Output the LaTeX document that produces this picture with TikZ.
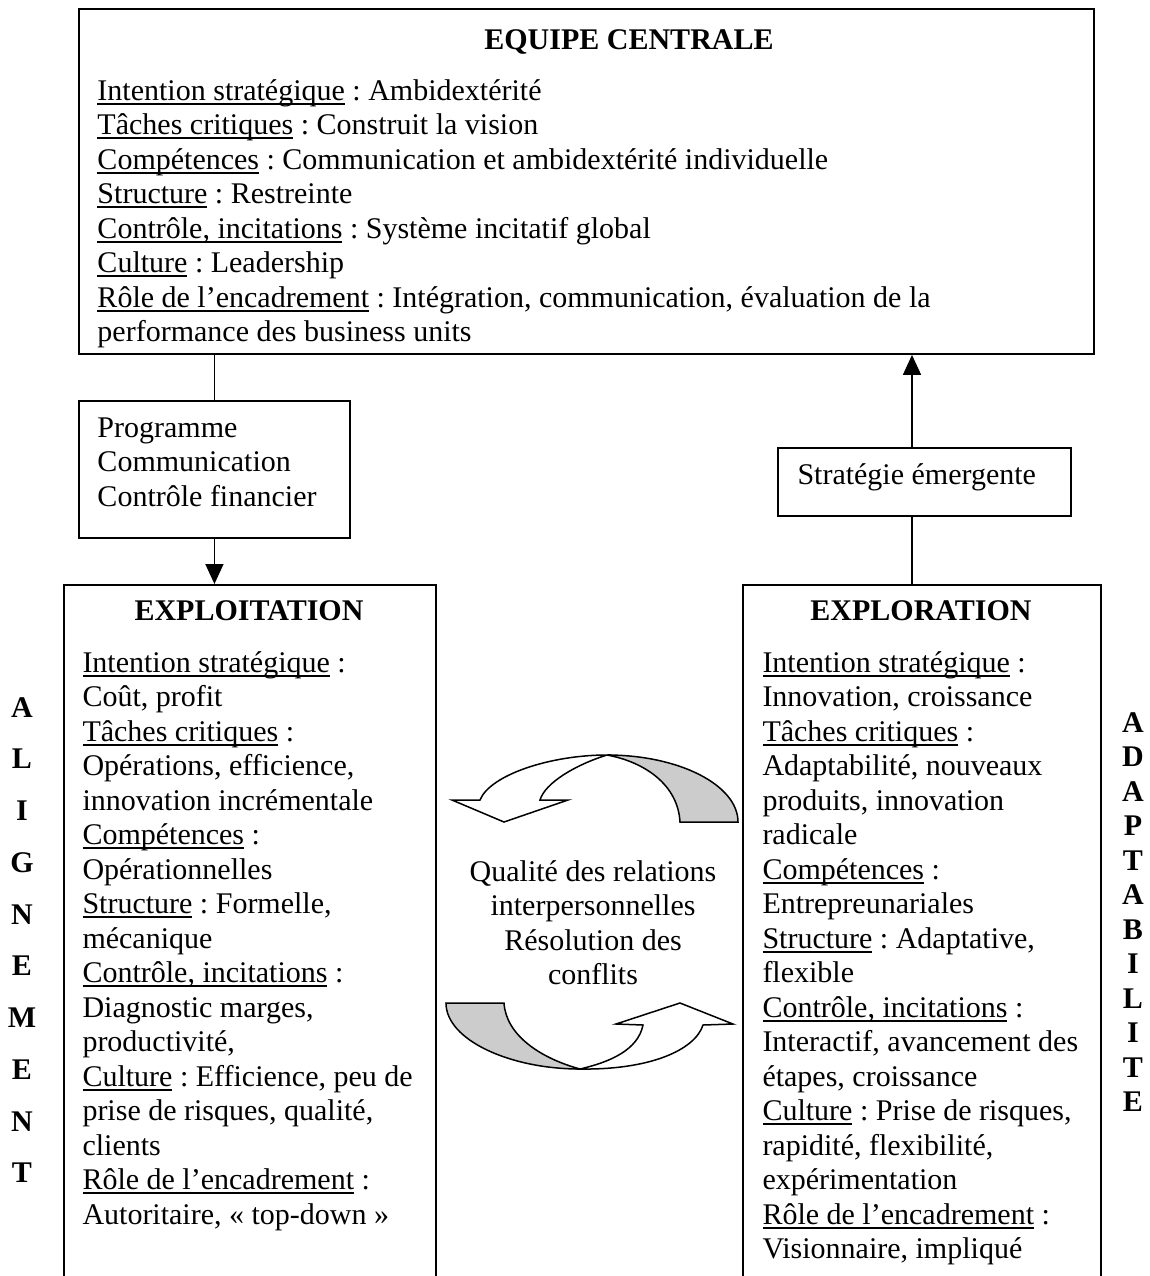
\documentclass[tikz,border=0pt,12pt]{standalone}
\usepackage{fontspec}
\setmainfont{Liberation Serif}
\usetikzlibrary{arrows.meta}
\frenchspacing
\newcommand\myul[1]{\setbox0=\hbox{#1}\rlap{\rule[-1.8pt]{\wd0}{0.65pt}}\box0\relax}
\definecolor{shade}{HTML}{CCCCCC}
\begin{document}
\begin{tikzpicture}[x=0.4pt,y=-0.4pt,
  box/.style={draw, line width=0.75pt, inner sep=0pt, anchor=north west},
  txt/.style={anchor=base west, inner sep=0pt},
  ctxt/.style={anchor=base, inner sep=0pt},
  conn/.style={line width=0.6pt},
  tip/.style={-{Triangle[length=8pt,width=7.2pt]}}]
\useasboundingbox (0,0) rectangle (1150,1276);
% boxes
\node[box, minimum width=406pt, minimum height=138pt] (top) at (78,8) {};
\node[box, minimum width=108.4pt, minimum height=54.8pt] (prog) at (78,400) {};
\node[box, minimum width=117.2pt, minimum height=27.2pt] (strat) at (777,447) {};
\node[box, minimum width=148.8pt, minimum height=290pt] (exploit) at (63,584) {};
\node[box, minimum width=143.2pt, minimum height=290pt] (explor) at (742,584) {};
\coordinate (cx) at (912,0);
% connectors
\draw[conn] (prog.north) -- (prog.north |- top.south);
\draw[conn, tip] (prog.south) -- (prog.south |- exploit.north);
\draw[conn] (explor.north -| cx) -- (strat.south -| cx);
\draw[conn, tip] (strat.north -| cx) -- (top.south -| cx);
% top box text
\node[ctxt, font=\bfseries] (toph) at (629,49) {EQUIPE CENTRALE};
\foreach \t [count=\i from 0] in {
  {\myul{Intention stratégique} : Ambidextérité},
  {\myul{Tâches critiques} : Construit la vision},
  {\myul{Compétences} : Communication et ambidextérité individuelle},
  {\myul{Structure} : Restreinte},
  {\myul{Contrôle, incitations} : Système incitatif global},
  {\myul{Culture} : Leadership},
  {\myul{Rôle de l’encadrement} : Intégration, communication, évaluation de la},
  {performance des business units}}
  \node[txt] (tl\i) at (97,{100+34.5*\i}) {\t};
% program box
\foreach \t [count=\i from 0] in {Programme, Communication, Contrôle financier}
  \node[txt] (pl\i) at (97,{437+34.5*\i}) {\t};
% strategie
\node[txt] (sl) at (797,484) {Stratégie émergente};
% exploitation
\node[ctxt, font=\bfseries] (exh) at (249,620) {EXPLOITATION};
\foreach \t [count=\i from 0] in {
  {\myul{Intention stratégique} :},
  {Coût, profit},
  {\myul{Tâches critiques} :},
  {Opérations, efficience,},
  {innovation incrémentale},
  {\myul{Compétences} :},
  {Opérationnelles},
  {\myul{Structure} : Formelle,},
  {mécanique},
  {\myul{Contrôle, incitations} :},
  {Diagnostic marges,},
  {productivité,},
  {\myul{Culture} : Efficience, peu de},
  {prise de risques, qualité,},
  {clients},
  {\myul{Rôle de l’encadrement} :},
  {Autoritaire, « top-down »}}
  \node[txt] (el\i) at (82,{672+34.5*\i}) {\t};
% exploration
\node[ctxt, font=\bfseries] (xph) at (921,620) {EXPLORATION};
\foreach \t [count=\i from 0] in {
  {\myul{Intention stratégique} :},
  {Innovation, croissance},
  {\myul{Tâches critiques} :},
  {Adaptabilité, nouveaux},
  {produits, innovation},
  {radicale},
  {\myul{Compétences} :},
  {Entrepreunariales},
  {\myul{Structure} : Adaptative,},
  {flexible},
  {\myul{Contrôle, incitations} :},
  {Interactif, avancement des},
  {étapes, croissance},
  {\myul{Culture} : Prise de risques,},
  {rapidité, flexibilité,},
  {expérimentation},
  {\myul{Rôle de l’encadrement} :},
  {Visionnaire, impliqué}}
  \node[txt] (xl\i) at (762,{672+34.5*\i}) {\t};
% centre text
\foreach \t [count=\i from 0] in {Qualité des relations, interpersonnelles, Résolution des, conflits}
  \node[ctxt] (cl\i) at (593,{881+34.5*\i}) {\t};
% side letters
\foreach \l [count=\i from 0] in {A,L,I,G,N,E,M,E,N,T}
  \node[ctxt, font=\bfseries] (al\i) at (22,{717+51.75*\i}) {\l};
\foreach \l [count=\i from 0] in {A,D,A,P,T,A,B,I,L,I,T,E}
  \node[ctxt, font=\bfseries] (ad\i) at (1133,{732+34.5*\i}) {\l};
% curved arrows
\draw[conn, fill=shade] (680,822) -- (738,822) .. controls (738,785) and (679,755) .. (607,755)
  .. controls (645,762) and (678,785) .. (680,822) -- cycle;
\draw[conn, fill=white] (480,800) .. controls (490,775) and (550,755) .. (607,755)
  .. controls (575,765) and (545,783) .. (540,800) -- (568,800) -- (504,822) -- (452,800) -- cycle;
\draw[conn, fill=shade] (446,1003) -- (504,1003) .. controls (506,1035) and (540,1058) .. (580,1069)
  .. controls (510,1069) and (446,1040) .. (446,1003) -- cycle;
\draw[conn, fill=white] (580,1069) .. controls (650,1070) and (695,1050) .. (703,1025)
  -- (733,1024) -- (680,1003) -- (616,1024) -- (643,1025)
  .. controls (638,1050) and (610,1062) .. (580,1069) -- cycle;
\end{tikzpicture}
\end{document}
